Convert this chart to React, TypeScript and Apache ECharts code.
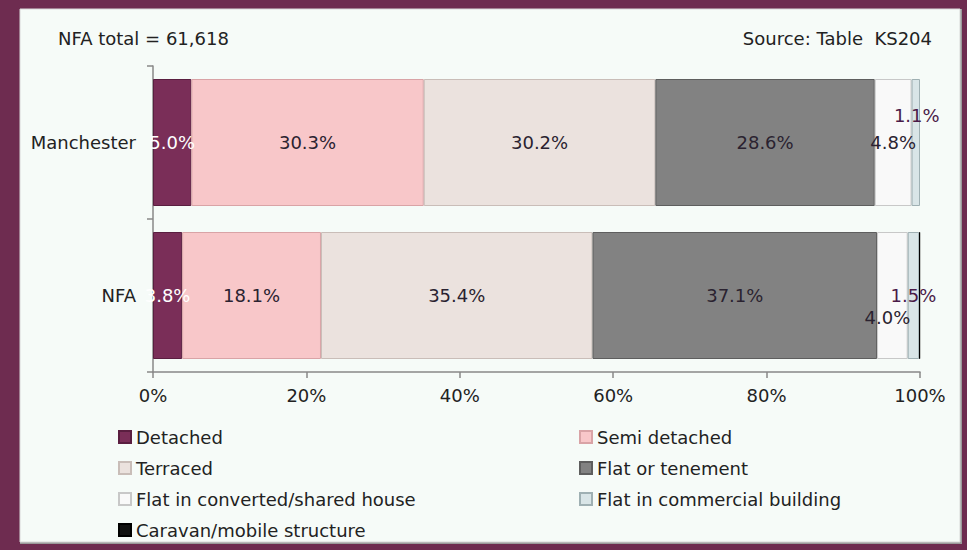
import React, { useEffect, useRef } from "react";
import * as echarts from "echarts";

const categories = ["Manchester", "NFA"];
const seriesNames = [
  "Detached",
  "Semi detached",
  "Terraced",
  "Flat or tenement",
  "Flat in converted/shared house",
  "Flat in commercial building",
  "Caravan/mobile structure",
];
const detached = [5.0, 3.8];
const semiDetached = [30.3, 18.1];
const terraced = [30.2, 35.4];
const flatTenement = [28.6, 37.1];
const flatConverted = [4.8, 4.0];
const flatCommercial = [1.1, 1.5];
const caravan = [0.05, 0.1];
const xTickValues = [0, 20, 40, 60, 80, 100];
const legendColumn1 = [
  "Detached",
  "Terraced",
  "Flat in converted/shared house",
  "Caravan/mobile structure",
];
const legendColumn2 = ["Semi detached", "Flat or tenement", "Flat in commercial building"];
const headerLeft = "NFA total = 61,618";
const headerRight = "Source: Table  KS204";

const FONT = "DejaVu Sans";
const colors = ["#7a2e58", "#f8c7c9", "#ebe2de", "#828282", "#f9f9f9", "#d9e5e7", "#111111"];
const borders = ["#5a1e40", "#d9a3a6", "#c9bdb8", "#5e5e5e", "#c8c8c8", "#9fb0b3", "#000000"];

const seriesData = [detached, semiDetached, terraced, flatTenement, flatConverted, flatCommercial, caravan];

export default function App() {
  const ref = useRef<HTMLDivElement>(null);
  useEffect(() => {
    if (!ref.current) return;
    const chart = echarts.init(ref.current, null, { renderer: "svg" });
    const labelColors = ["#ffffff", "#2a2230", "#2a2230", "#2a2230", "#2a2230", "#4a1a48", "#2a2230"];
    const series = seriesNames.map((name, si) => ({
      name,
      type: "bar",
      stack: "total",
      barWidth: 127,
      itemStyle: { color: colors[si], borderColor: borders[si], borderWidth: 1 },
      label: {
        show: si < 6,
        position: "inside",
        color: labelColors[si],
        fontFamily: FONT,
        fontSize: 18,
        formatter: (p: any) => p.value.toFixed(1) + "%",
      },
      data: seriesData[si].map((v, ci) => {
        const item: any = { value: v };
        if (si === 4 && ci === 1) item.label = { offset: [-5, 22] };
        if (si === 5 && ci === 0) item.label = { offset: [1, -27] };
        return item;
      }),
    }));
    const legendBase = {
      orient: "vertical",
      icon: "rect",
      itemWidth: 12,
      itemHeight: 12,
      itemGap: 11,
      selectedMode: false,
      textStyle: { fontFamily: FONT, fontSize: 18, color: "#222", lineHeight: 20 },
      top: 422,
    };
    chart.setOption({
      animation: false,
      backgroundColor: "#6e2c50",
      color: colors,
      graphic: [
        { type: "rect", shape: { x: 20, y: 9, width: 942, height: 535 }, style: { fill: "#9a9a9a" }, z: -10 },
        { type: "rect", shape: { x: 20, y: 9, width: 940, height: 533 }, style: { fill: "#f6fbf8", stroke: "#d8d8d8", lineWidth: 1 }, z: -9 },
        {
          type: "text",
          left: 58,
          top: 29,
          style: { text: headerLeft, fontFamily: FONT, fontSize: 18, fill: "#222" },
        },
        {
          type: "text",
          right: 35,
          top: 29,
          style: { text: headerRight, fontFamily: FONT, fontSize: 18, fill: "#222" },
        },
      ],
      grid: { left: 153, right: 47, top: 66, bottom: 178, containLabel: false },
      xAxis: {
        type: "value",
        min: xTickValues[0],
        max: xTickValues[xTickValues.length - 1],
        interval: 20,
        axisLine: { show: true, lineStyle: { color: "#888", width: 1.5 } },
        axisTick: { show: true, length: 6, lineStyle: { color: "#888", width: 1.5 } },
        splitLine: { show: false },
        axisLabel: { fontFamily: FONT, fontSize: 18, color: "#222", margin: 14, formatter: (v: number) => v + "%" },
      },
      yAxis: {
        type: "category",
        inverse: true,
        data: categories,
        axisLine: { show: true, lineStyle: { color: "#888", width: 1.5 } },
        axisTick: { show: true, length: 6, lineStyle: { color: "#888", width: 1.5 } },
        axisLabel: { fontFamily: FONT, fontSize: 18, color: "#222", margin: 17 },
      },
      legend: [
        { ...legendBase, left: 113, data: legendColumn1 },
        { ...legendBase, left: 574, data: legendColumn2 },
      ],
      series,
    });
    return () => chart.dispose();
  }, []);
  return (
    <div
      ref={ref}
      style={{ position: "absolute", left: 0, top: 0, width: 967, height: 550 }}
    />
  );
}
